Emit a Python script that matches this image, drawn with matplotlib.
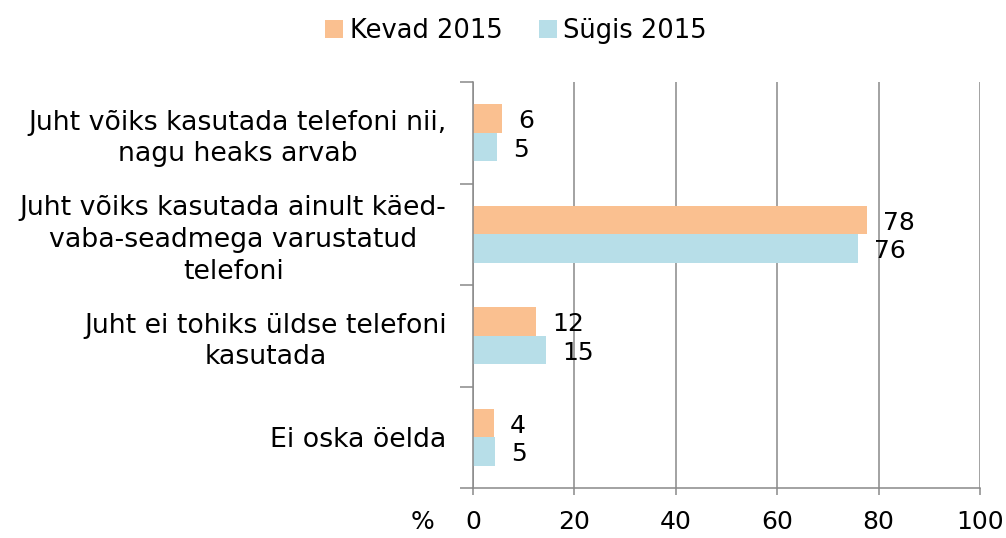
import matplotlib
matplotlib.use("Agg")
import matplotlib.pyplot as plt
from matplotlib.patches import Patch
import numpy as np

categories = [
    "Juht võiks kasutada telefoni nii,\nnagu heaks arvab",
    "Juht võiks kasutada ainult käed-\nvaba-seadmega varustatud\ntelefoni",
    "Juht ei tohiks üldse telefoni\nkasutada",
    "Ei oska öelda",
]
series_names = ["Kevad 2015", "Sügis 2015"]
kevad = [5.7, 77.8, 12.4, 4.1]
sugis = [4.8, 75.9, 14.4, 4.4]
kevad_labels = ["6", "78", "12", "4"]
sugis_labels = ["5", "76", "15", "5"]
xticks = [0, 20, 40, 60, 80, 100]

c_orange = "#FAC090"
c_blue = "#B7DEE8"
gray = "#898989"
FS_CAT = 19.3
FS_NUM = 18
FS_LEG = 18.5

plt.rcParams['font.family'] = ['DejaVu Sans']

fig = plt.figure(figsize=(10.06, 5.38), dpi=100)
ax = fig.add_axes([473/1006, 50/538, 507/1006, 406/538])

y = np.arange(len(categories))
h = 0.28
ax.barh(y - h/2, kevad, height=h, color=c_orange, zorder=3)
ax.barh(y + h/2, sugis, height=h, color=c_blue, zorder=3)

off = 16 * 72 / 100  # points
for yi, v, lab in zip(y - h/2, kevad, kevad_labels):
    ax.annotate(lab, (v, yi), xytext=(off, -2), textcoords="offset points",
                va="center", ha="left", fontsize=FS_NUM, color="black")
for yi, v, lab in zip(y + h/2, sugis, sugis_labels):
    ax.annotate(lab, (v, yi), xytext=(off, -2), textcoords="offset points",
                va="center", ha="left", fontsize=FS_NUM, color="black")

ax.set_xlim(0, 100)
ax.set_ylim(len(categories) - 0.5, -0.5)
ax.set_xticks(xticks)
ax.set_xticklabels([str(t) for t in xticks], fontsize=FS_NUM)
ax.set_yticks(y)
ax.set_yticklabels(categories, fontsize=FS_CAT, multialignment="center", linespacing=1.28)
ax.set_yticks(np.arange(-0.5, len(categories), 1.0), minor=True)
ax.tick_params(axis="y", which="major", length=0, pad=19)
ax.tick_params(axis="y", which="minor", length=9.5, width=1.1, color=gray)
ax.tick_params(axis="x", which="major", length=5, width=1.1, color=gray, pad=11)

ax.grid(axis="x", color=gray, linewidth=1.1, zorder=0)
for s in ["top", "right"]:
    ax.spines[s].set_visible(False)
for s in ["left", "bottom"]:
    ax.spines[s].set_color(gray)
    ax.spines[s].set_linewidth(1.1)
    ax.spines[s].set_zorder(4)

fig.text(423/1006, 1 - 522/538, "%", fontsize=FS_NUM, ha="center", va="center")

handles = [Patch(facecolor=c_orange, edgecolor="none"),
           Patch(facecolor=c_blue, edgecolor="none")]
fig.legend(handles, series_names, loc="center", bbox_to_anchor=(516/1006, 1 - 31/538),
           ncol=2, frameon=False, fontsize=FS_LEG, handlelength=0.7, handleheight=0.7,
           handletextpad=0.25, columnspacing=1.4, borderaxespad=0)

fig.savefig("out.png", dpi=100)
